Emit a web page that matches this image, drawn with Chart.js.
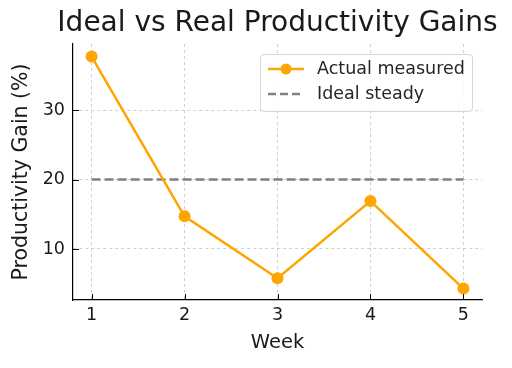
<!DOCTYPE html>
<html>
<head>
<meta charset="utf-8">
<script src="https://cdn.jsdelivr.net/npm/chart.js@4"></script>
<style>
    html, body { margin: 0; padding: 0; background: #fff; }
    #wrap { position: relative; width: 512px; height: 368px; }
    #legend {
        position: absolute; left: 260px; top: 54px; width: 213px; height: 58px;
        border: 1px solid #d6d6d6; border-radius: 4px; background: rgba(255,255,255,0.8);
        font-family: "DejaVu Sans", sans-serif; font-size: 17.5px; color: #262626;
        box-sizing: border-box;
    }
    .row { position: absolute; left: 6px; height: 20px; line-height: 20px; }
    .row span { position: absolute; left: 50px; top: 0; white-space: nowrap; }
    .row canvas { position: absolute; left: 0; top: 0; }
</style>
</head>
<body>
<div id="wrap">
    <canvas id="chart" width="512" height="368"></canvas>
    <div id="legend">
        <div class="row" style="top: 3px"><canvas id="key-1" width="40" height="20"></canvas><span>Actual measured</span></div>
        <div class="row" style="top: 28px"><canvas id="key-2" width="40" height="20"></canvas><span>Ideal steady</span></div>
    </div>
</div>
<script>
// data
const weeks = [1, 2, 3, 4, 5];
const actual_values = [37.7, 14.7, 5.8, 16.9, 4.3];
const ideal_values = [20, 20, 20, 20, 20];
const y_ticks = [10, 20, 30];

const orange = '#ffa500';
const grey = '#808080';
const text_color = '#1a1a1a';
const font_family = '"DejaVu Sans", sans-serif';

/**
 * Draw matplotlib style inward ticks on both axes
 */
const inward_ticks = {
    id: 'inward_ticks',
    afterDatasetsDraw(chart) {
        const ctx = chart.ctx;
        const area = chart.chartArea;
        ctx.save();
        ctx.strokeStyle = '#000';
        ctx.lineWidth = 1;
        weeks.forEach(w => {
            let x = Math.round(chart.scales.x.getPixelForValue(w)) + 0.5;
            ctx.beginPath();
            ctx.moveTo(x, area.bottom);
            ctx.lineTo(x, area.bottom - 6);
            ctx.stroke();
        });
        y_ticks.forEach(v => {
            let y = Math.round(chart.scales.y.getPixelForValue(v)) + 0.5;
            ctx.beginPath();
            ctx.moveTo(area.left, y);
            ctx.lineTo(area.left + 6, y);
            ctx.stroke();
        });
        ctx.restore();
    }
};

/**
 * Center the title over the plot area, like matplotlib does
 */
const center_title = {
    id: 'center_title',
    afterLayout(chart) {
        const area = chart.chartArea;
        const mid = (area.left + area.right) / 2;
        chart.titleBlock.left = mid - 250;
        chart.titleBlock.right = mid + 250;
    }
};

const grid_style = { color: '#c4c4c4', lineWidth: 0.8, drawTicks: false };

new Chart(document.getElementById('chart').getContext('2d'), {
    type: 'line',
    data: {
        datasets: [
            {
                label: 'Actual measured',
                data: weeks.map((w, i) => ({ x: w, y: actual_values[i] })),
                borderColor: orange,
                backgroundColor: orange,
                borderWidth: 2.5,
                pointRadius: 6,
                pointBorderWidth: 0,
                tension: 0
            },
            {
                label: 'Ideal steady',
                data: weeks.map((w, i) => ({ x: w, y: ideal_values[i] })),
                borderColor: grey,
                borderWidth: 2.5,
                borderDash: [9, 4],
                pointRadius: 0,
                tension: 0
            }
        ]
    },
    plugins: [inward_ticks, center_title],
    options: {
        responsive: false,
        animation: false,
        layout: { padding: { left: 0, right: 30, top: 0, bottom: 0 } },
        plugins: {
            legend: { display: false },
            tooltip: { enabled: false },
            title: {
                display: true,
                text: 'Ideal vs Real Productivity Gains',
                color: text_color,
                font: { family: font_family, size: 28, weight: 'normal', lineHeight: 1.2 },
                padding: { top: 7, bottom: 3.4 }
            }
        },
        scales: {
            x: {
                type: 'linear',
                min: 0.8,
                max: 5.2,
                afterBuildTicks: s => { s.ticks = weeks.map(v => ({ value: v })); },
                afterFit: s => { s.height = 68; },
                grid: grid_style,
                border: { color: '#000', width: 1.2, dash: [3, 3] },
                ticks: { color: text_color, padding: 5, font: { family: font_family, size: 17.5 } },
                title: {
                    display: true, text: 'Week', color: text_color,
                    font: { family: font_family, size: 19.5 }, padding: { top: 0, bottom: 13 }
                }
            },
            y: {
                min: 2.66,
                max: 39.5,
                afterBuildTicks: s => { s.ticks = y_ticks.map(v => ({ value: v })); },
                afterFit: s => { s.width = 73; },
                grid: grid_style,
                border: { color: '#000', width: 1.2, dash: [3, 3] },
                ticks: { color: text_color, padding: 8, font: { family: font_family, size: 17.5 } },
                title: {
                    display: true, text: 'Productivity Gain (%)', color: text_color,
                    font: { family: font_family, size: 20.5 }, padding: { top: 9, bottom: 0 }
                }
            }
        }
    }
});

/**
 * Draw a small legend key
 *
 * @param {string} id
 * @param {string} color
 * @param {Array} dash
 * @param {boolean} marker
 */
function draw_key(id, color, dash, marker) {
    let ctx = document.getElementById(id).getContext('2d');
    ctx.strokeStyle = color;
    ctx.lineWidth = 2.5;
    ctx.setLineDash(dash);
    ctx.beginPath();
    ctx.moveTo(1, 11);
    ctx.lineTo(37, 11);
    ctx.stroke();
    if (marker) {
        ctx.fillStyle = color;
        ctx.beginPath();
        ctx.arc(19, 11, 5.5, 0, Math.PI * 2);
        ctx.fill();
    }
}

draw_key('key-1', orange, [], true);
draw_key('key-2', grey, [8, 4], false);
</script>
</body>
</html>
